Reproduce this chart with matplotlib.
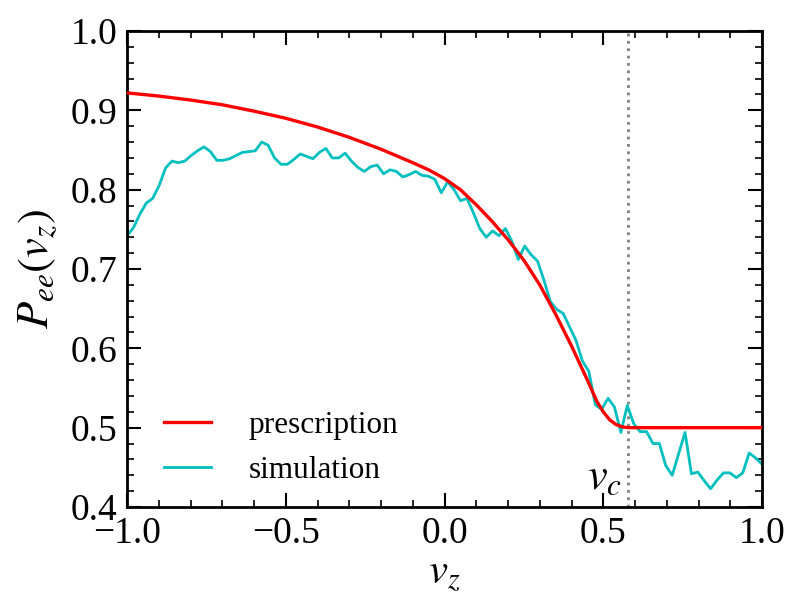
import numpy as np
import matplotlib
matplotlib.use("Agg")
import matplotlib.pyplot as plt
from matplotlib.ticker import MultipleLocator

plt.rcParams['font.family'] = ['Liberation Serif', 'DejaVu Serif']
plt.rcParams['mathtext.fontset'] = 'stix'

# simulation values on a uniform v_z grid from -1 to 1
sim_values = [0.742, 0.752, 0.769, 0.783, 0.789, 0.805, 0.827, 0.836, 0.834, 0.836,
              0.843, 0.849, 0.854, 0.848, 0.837, 0.837, 0.839, 0.843, 0.847, 0.848,
              0.849, 0.860, 0.856, 0.840, 0.832, 0.832, 0.838, 0.845, 0.842, 0.839,
              0.847, 0.852, 0.840, 0.840, 0.846, 0.836, 0.828, 0.823, 0.829, 0.831,
              0.820, 0.825, 0.823, 0.816, 0.819, 0.823, 0.818, 0.817, 0.813, 0.796,
              0.810, 0.800, 0.786, 0.789, 0.771, 0.751, 0.740, 0.748, 0.742, 0.751,
              0.735, 0.712, 0.729, 0.718, 0.710, 0.686, 0.659, 0.649, 0.644, 0.627,
              0.610, 0.584, 0.571, 0.529, 0.523, 0.537, 0.526, 0.494, 0.528, 0.505,
              0.495, 0.495, 0.480, 0.480, 0.452, 0.440, 0.467, 0.494, 0.442, 0.444,
              0.433, 0.423, 0.434, 0.443, 0.443, 0.437, 0.443, 0.468, 0.462, 0.454]
sim_vz = np.linspace(-1.0, 1.0, len(sim_values))

presc_vz = [-1.0, -0.9, -0.8, -0.7, -0.6, -0.5, -0.4, -0.3, -0.2, -0.1, -0.05, 0.0,
            0.05, 0.1, 0.15, 0.2, 0.25, 0.3, 0.35, 0.4, 0.45, 0.48, 0.50, 0.52,
            0.54, 0.56, 0.577, 1.0]
presc_values = [0.922, 0.918, 0.913, 0.907, 0.899, 0.890, 0.879, 0.866, 0.851, 0.834, 0.825, 0.814,
                0.800, 0.781, 0.760, 0.737, 0.711, 0.680, 0.643, 0.603, 0.560, 0.533, 0.520, 0.510,
                0.504, 0.501, 0.500, 0.500]

v_c = 0.577

fig = plt.figure(figsize=(7.88, 6.0), dpi=100)
ax = fig.add_axes([127/788, 93/600, 635/788, 476/600])

ax.plot(presc_vz, presc_values, color='#ff0000', lw=2.4, label='prescription', zorder=3)
ax.plot(sim_vz, sim_values, color='#00bfbf', lw=2.0, label='simulation', zorder=2)
ax.axvline(v_c, color='gray', ls=':', lw=2.0, zorder=1)
ax.text(0.505, 0.437, r'$v_c$', fontsize=32, ha='center', va='center')

ax.set_xlim(-1, 1)
ax.set_ylim(0.4, 1.0)
ax.xaxis.set_major_locator(MultipleLocator(0.5))
ax.xaxis.set_minor_locator(MultipleLocator(0.1))
ax.yaxis.set_major_locator(MultipleLocator(0.1))
ax.yaxis.set_minor_locator(MultipleLocator(0.02))
ax.set_xticks([-1.0, -0.5, 0.0, 0.5, 1.0])
ax.set_xticklabels(['\u22121.0', '\u22120.5', '0.0', '0.5', '1.0'])
ax.set_yticks([0.4, 0.5, 0.6, 0.7, 0.8, 0.9, 1.0])
ax.set_yticklabels(['0.4', '0.5', '0.6', '0.7', '0.8', '0.9', '1.0'])
ax.tick_params(which='both', direction='in', top=True, right=True, labelsize=27)
ax.tick_params(which='major', length=10, width=1.5, pad=7)
ax.tick_params(which='minor', length=5, width=1.2)
for s in ax.spines.values():
    s.set_linewidth(2.0)

ax.set_xlabel(r'$v_z$', fontsize=31, labelpad=3)
ax.set_ylabel(r'$P_{ee}(v_z)$', fontsize=32, labelpad=8)

ax.legend(loc='lower left', bbox_to_anchor=(0.0386, 0.021), frameon=False,
          fontsize=22.5, handlelength=1.5, handletextpad=1.2, labelspacing=0.5,
          borderaxespad=0.0)

fig.savefig('out.png', dpi=100)
